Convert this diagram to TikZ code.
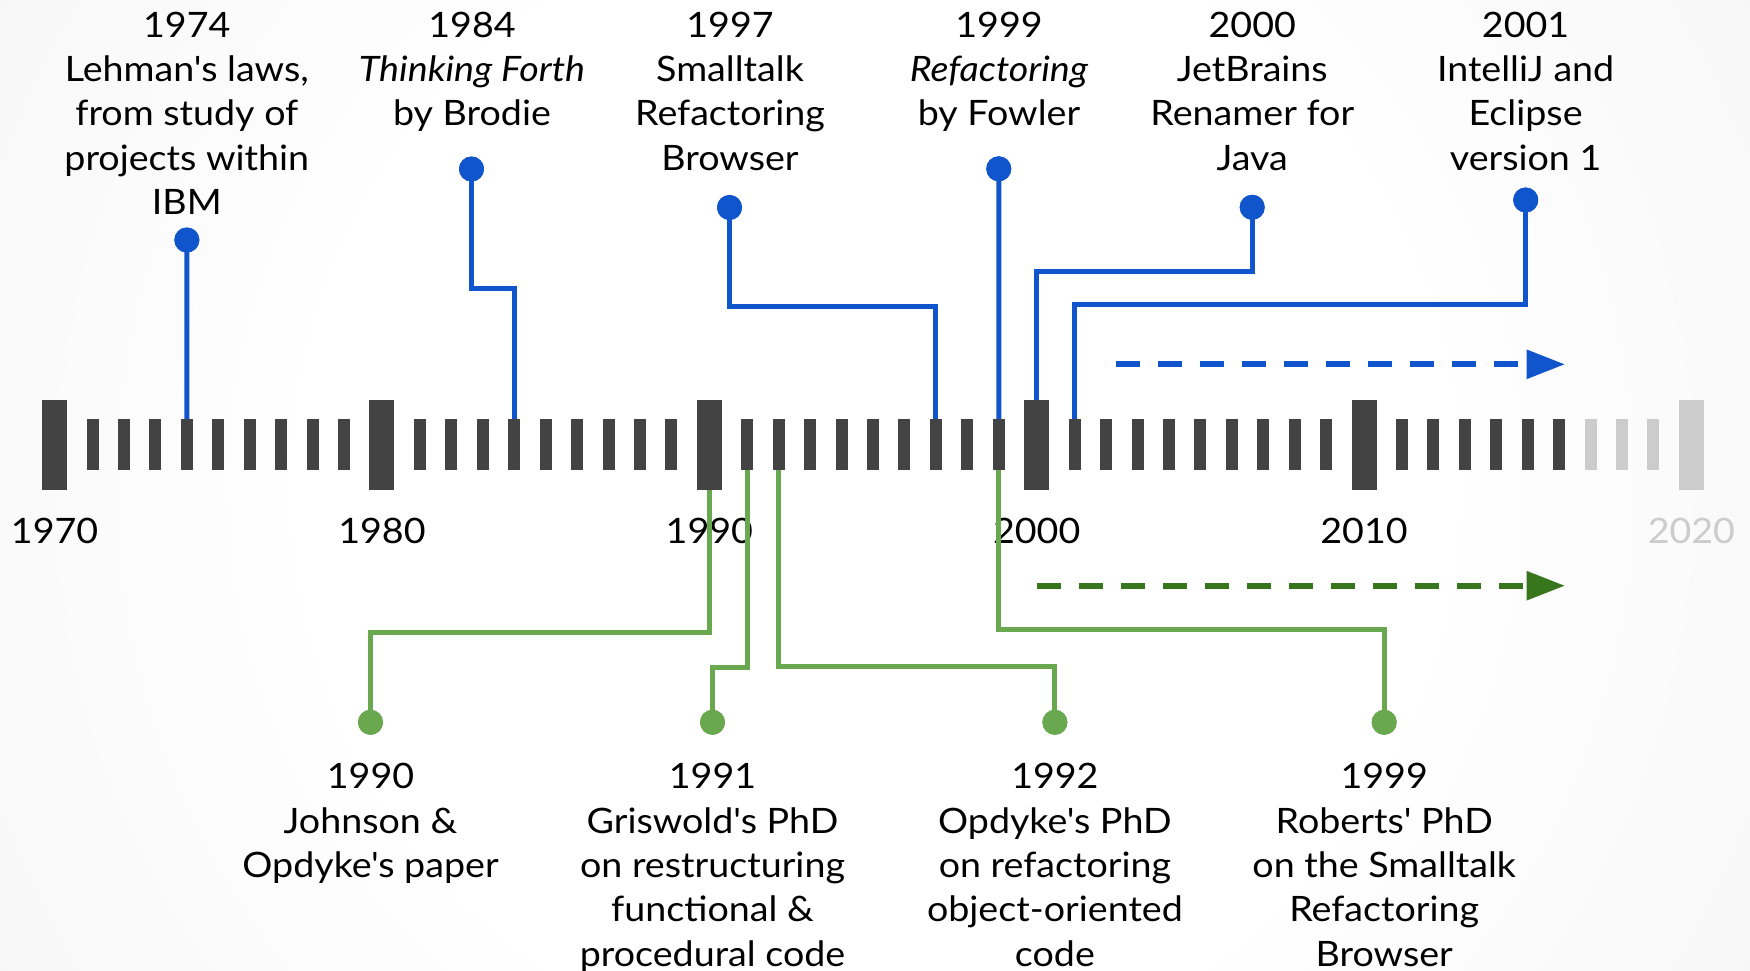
\documentclass[tikz,border=0pt]{standalone}
\usepackage{fontspec}
\setmainfont{Lato}[Ligatures=TeXOff, FakeStretch=1.075]
\usetikzlibrary{arrows.meta}

\definecolor{evblue}{HTML}{1155CC}
\definecolor{evgreen}{HTML}{6AA84F}
\definecolor{trendgreen}{HTML}{38761D}
\definecolor{tickgray}{HTML}{434343}
\definecolor{fadegray}{HTML}{CCCCCC}
\definecolor{bgedge}{HTML}{E6E6E6}

% soft round backdrop: white in the middle, light grey towards the corners
\pgfdeclareradialshading{backdrop}{\pgfpoint{0bp}{0bp}}{%
  color(0bp)=(white); color(14bp)=(white); color(50bp)=(bgedge)}

\begin{document}
\begin{tikzpicture}[x=1pt, y=-1pt,
  every node/.style={inner sep=0pt, outer sep=0pt},
  bigtick/.style={rectangle, minimum width=25pt, minimum height=90pt},
  smalltick/.style={rectangle, minimum width=12pt, minimum height=51pt},
  yearlabel/.style={font=\fontsize{35}{44.4}\selectfont, anchor=base},
  evtext/.style={font=\fontsize{35}{44.4}\selectfont, align=center, anchor=north},
  bdot/.style={circle, fill=evblue, minimum size=25pt},
  gdot/.style={circle, fill=evgreen, minimum size=25pt},
  bline/.style={draw=evblue, line width=5pt},
  gline/.style={draw=evgreen, line width=5pt},
  trend/.style={line width=6pt, dash pattern=on 24pt off 18pt,
    -{Triangle[length=38.5pt, width=28pt]}}
]

% backdrop
\begin{scope}
  \clip (0,0) rectangle (1750,971);
  \shade[shading=backdrop] (-125,-514.5) rectangle (1875,1485.5);
\end{scope}
\useasboundingbox (0,0) rectangle (1750,971);

% decade ticks and their year labels
\foreach \d/\col/\tcol in {0/tickgray/black,1/tickgray/black,2/tickgray/black,
                           3/tickgray/black,4/tickgray/black,5/fadegray/fadegray}{
  \pgfmathsetmacro{\cx}{42.1+327.36*\d+12.5}
  \pgfmathtruncatemacro{\yr}{1970+10*\d}
  \node[bigtick, fill=\col] (t\yr) at (\cx,445) {};
  \node[yearlabel, text=\tcol] (y\yr) at (\cx,543.3) {\yr};
}
% single-year ticks
\foreach \d in {0,...,4}{
  \foreach \i in {1,...,9}{
    \pgfmathsetmacro{\cx}{42.1+327.36*\d+50.44+31.436*(\i-1)}
    \pgfmathtruncatemacro{\yr}{1970+10*\d+\i}
    \ifnum\yr>2016 \def\tc{fadegray}\else\def\tc{tickgray}\fi
    \node[smalltick, fill=\tc] (t\yr) at (\cx,444.5) {};
  }
}

% events above the axis
\node[evtext] (l1974) at (186.8,11.7) {1974\\Lehman's laws,\\from study of\\projects within\\IBM};
\node[evtext] (l1984) at (472,11.7) {1984\\\textit{Thinking Forth}\\by Brodie};
\node[evtext] (l1997) at (730,11.7) {1997\\Smalltalk\\Refactoring\\Browser};
\node[evtext] (l1999) at (999,11.7) {1999\\\textit{Refactoring}\\by Fowler};
\node[evtext] (l2000) at (1252.3,11.7) {2000\\JetBrains\\Renamer for\\Java};
\node[evtext] (l2001) at (1525.6,11.7) {2001\\IntelliJ and\\Eclipse\\version 1};

\node[bdot] (d1974) at (186.85,240) {};
\node[bdot] (d1984) at (471.5,169) {};
\node[bdot] (d1997) at (729.5,207.5) {};
\node[bdot] (d1999) at (998.75,168.8) {};
\node[bdot] (d2000) at (1252.2,207.3) {};
\node[bdot] (d2001) at (1525.7,200) {};

\draw[bline] (d1974.center) -- (t1974.north);
\draw[bline] (d1984.center) -- ++(0,119) -| (t1984.north);
\draw[bline] (d1997.center) -- ++(0,99.2) -| (t1997.north);
\draw[bline] (d1999.center) -- (t1999.north);
\draw[bline] (d2000.center) -- ++(0,64.4) -| (t2000.north);
\draw[bline] (d2001.center) -- ++(0,104) -| (t2001.north);

% events below the axis
\node[evtext] (l1990) at (370.5,763.3) {1990\\Johnson \&\\Opdyke's paper};
\node[evtext] (l1991) at (712.5,763.3) {1991\\Griswold's PhD\\on restructuring\\functional \&\\procedural code};
\node[evtext] (l1992) at (1054.9,763.3) {1992\\Opdyke's PhD\\on refactoring\\object-oriented\\code};
\node[evtext] (l1999b) at (1384.2,763.3) {1999\\Roberts' PhD\\on the Smalltalk\\Refactoring\\Browser};

\node[gdot] (g1990) at (370.5,722.3) {};
\node[gdot] (g1991) at (712.5,722.3) {};
\node[gdot] (g1992) at (1054.9,722.3) {};
\node[gdot] (g1999) at (1384.2,722.3) {};

\draw[gline] (t1990.south) -- ++(0,142.3) -| (g1990.center);
\draw[gline] (t1991.south) -- ++(0,197.5) -| (g1991.center);
\draw[gline] (t1992.south) -- ++(0,196.7) -| (g1992.center);
\draw[gline] (t1999.south) -- ++(0,159.3) -| (g1999.center);

% dots painted again so the line ends sit underneath them
\foreach \n in {d1974,d1984,d1997,d1999,d2000,d2001}{\fill[evblue] (\n) circle (12.5);}
\foreach \n in {g1990,g1991,g1992,g1999}{\fill[evgreen] (\n) circle (12.5);}

% ongoing trends
\coordinate (bs) at (1115.6,364.3);
\coordinate (be) at (1565,364.3);
\coordinate (gs) at (1037.3,585.7);
\coordinate (ge) at (1565,585.7);
\draw[trend, evblue] (bs) -- (be);
\draw[trend, trendgreen] (gs) -- (ge);

\end{tikzpicture}
\end{document}
